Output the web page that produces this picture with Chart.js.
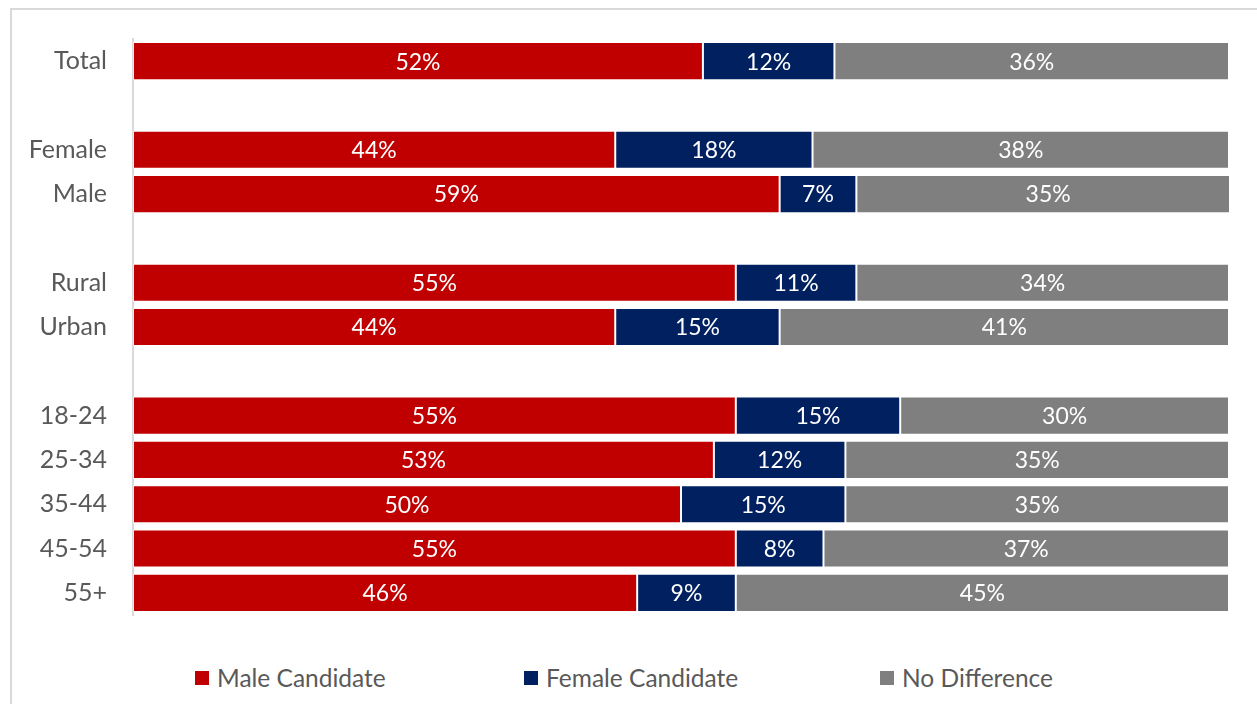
<!DOCTYPE html>
<html>
<head>
<meta charset="utf-8">
<script src="https://cdn.jsdelivr.net/npm/chart.js@4.4.1/dist/chart.umd.min.js"></script>
<style>
  html, body { margin: 0; padding: 0; background: #fff; }
  body { width: 1257px; height: 704px; position: relative; overflow: hidden; font-family: Lato, "Liberation Sans", sans-serif; }
  #frame { position: absolute; left: 10px; top: 8px; width: 1260px; height: 710px; border: 2px solid #d9d9d9; box-sizing: border-box; }
  #wrap { position: absolute; left: 0; top: -2px; width: 1257px; height: 658px; }
  #legend { position: absolute; left: 0; top: 664px; width: 1257px; height: 30px; }
  .item { position: absolute; top: 0; display: flex; align-items: center; color: #595959; font-size: 24.5px; line-height: 28px; white-space: nowrap; }
  .item span.box { display: inline-block; width: 14px; height: 14px; margin-right: 8px; }
</style>
</head>
<body>
<div id="frame"></div>
<div id="wrap"><canvas id="chart"></canvas></div>
<div id="legend"></div>
<script>
// rows, with blank spacer rows between groups
const categories = ["Total", "", "Female", "Male", "", "Rural", "Urban", "", "18-24", "25-34", "35-44", "45-54", "55+"];
const maleCandidate   = [52, null, 44, 59, null, 55, 44, null, 55, 53, 50, 55, 46];
const femaleCandidate = [12, null, 18, 7, null, 11, 15, null, 15, 12, 15, 8, 9];
const noDifference    = [36, null, 38, 35, null, 34, 41, null, 30, 35, 35, 37, 45];

const seriesNames = ["Male Candidate", "Female Candidate", "No Difference"];
const seriesColors = ["#c00000", "#002060", "#7f7f7f"];
const legendX = [195, 524, 880];

const fontFamily = "Lato, 'Liberation Sans', sans-serif";

// white percentage text centred in each segment
const segmentLabels = {
  id: "segmentLabels",
  afterDatasetsDraw(chart) {
    const ctx = chart.ctx;
    ctx.save();
    ctx.fillStyle = "#ffffff";
    ctx.font = "23px " + fontFamily;
    ctx.textAlign = "center";
    ctx.textBaseline = "middle";
    chart.data.datasets.forEach((ds, di) => {
      const meta = chart.getDatasetMeta(di);
      meta.data.forEach((el, i) => {
        const v = ds.data[i];
        if (v == null) return;
        const x = (el.x + el.base) / 2;
        ctx.fillText(v + "%", x, el.y + 1);
      });
    });
    ctx.restore();
  }
};

const datasets = [maleCandidate, femaleCandidate, noDifference].map((d, i) => ({
  label: seriesNames[i],
  data: d,
  backgroundColor: seriesColors[i],
  borderColor: "rgba(255,255,255,0.5)",
  borderWidth: 1,
  borderSkipped: false,
  categoryPercentage: 0.86,
  barPercentage: 1
}));

new Chart(document.getElementById("chart"), {
  type: "bar",
  data: { labels: categories, datasets: datasets },
  plugins: [segmentLabels],
  options: {
    indexAxis: "y",
    responsive: true,
    maintainAspectRatio: false,
    animation: false,
    layout: { padding: { left: 0, right: 28, top: 36, bottom: 12 } },
    plugins: { legend: { display: false }, tooltip: { enabled: false } },
    scales: {
      x: { stacked: true, min: 0, max: 100, display: false },
      y: {
        stacked: true,
        grid: { display: false, drawTicks: false },
        border: { display: true, color: "#d9d9d9", width: 2 },
        ticks: { color: "#595959", font: { family: fontFamily, size: 25 }, padding: 26, autoSkip: false },
        afterFit(scale) { scale.width = 133; }
      }
    }
  }
});

// legend along the bottom
const legend = document.getElementById("legend");
seriesNames.forEach((name, i) => {
  const item = document.createElement("div");
  item.className = "item";
  item.style.left = legendX[i] + "px";
  item.innerHTML = '<span class="box" style="background:' + seriesColors[i] + '"></span>' + name;
  legend.appendChild(item);
});
</script>
</body>
</html>
